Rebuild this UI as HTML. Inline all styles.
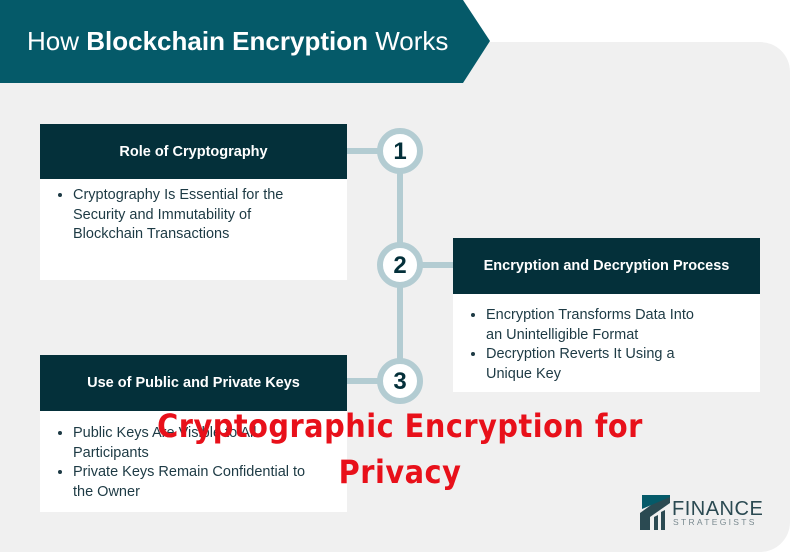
<!DOCTYPE html>
<html><head><style>
body{margin:0;width:800px;height:557px;background:#fff;position:relative;overflow:hidden;font-family:"Liberation Sans",sans-serif}
.a{position:absolute}
.hd{background:#04303a;color:#fff;font-weight:bold;font-size:14.5px;display:flex;align-items:center;justify-content:center}
.bd{background:#fff;color:#1d3a44;font-size:14.5px;line-height:19.5px;box-sizing:border-box;padding:6px 22px 0 0}
.bd ul{margin:0;padding-left:33px}
.red{color:#e8101a;font-weight:bold;font-size:32px;font-family:"DejaVu Sans Condensed","DejaVu Sans",sans-serif;text-align:center;width:800px;left:0;letter-spacing:0.5px}
</style></head><body>
<div class="a" style="left:0;top:42px;width:790px;height:510px;background:#f0f0f0;border-radius:0 30px 30px 0"></div>
<svg class="a" style="left:0;top:0" width="800" height="557">
<polygon points="0,0 463,0 490,41 463,83 0,83" fill="#055a69"/>
<line x1="400" y1="150" x2="400" y2="380" stroke="#b3ccd2" stroke-width="6"/>
<line x1="347" y1="151" x2="400" y2="151" stroke="#b3ccd2" stroke-width="6"/>
<line x1="400" y1="265" x2="453" y2="265" stroke="#b3ccd2" stroke-width="6"/>
<line x1="347" y1="381" x2="400" y2="381" stroke="#b3ccd2" stroke-width="6"/>
<g fill="#fff" stroke="#b3ccd2" stroke-width="6">
<circle cx="400" cy="151" r="20"/><circle cx="400" cy="265" r="20"/><circle cx="400" cy="381" r="20"/></g>
<g font-family="Liberation Sans,sans-serif" font-weight="bold" font-size="24" fill="#04303a" text-anchor="middle">
<text x="400" y="159">1</text><text x="400" y="273">2</text><text x="400" y="389">3</text></g>
</svg>
<div class="a" style="left:27px;top:26px;color:#fff;font-size:26px">How <b>Blockchain Encryption</b> Works</div>
<div class="a hd" style="left:40px;top:124px;width:307px;height:55px">Role of Cryptography</div>
<div class="a bd" style="left:40px;top:179px;width:307px;height:101px;padding-top:7px"><ul><li>Cryptography Is Essential for the Security and Immutability of Blockchain Transactions</li></ul></div>
<div class="a hd" style="left:453px;top:238px;width:307px;height:56px">Encryption and Decryption Process</div>
<div class="a bd" style="left:453px;top:294px;width:307px;height:98px;padding-top:12px;padding-right:60px"><ul><li>Encryption Transforms Data Into an Unintelligible Format</li><li>Decryption Reverts It Using a Unique Key</li></ul></div>
<div class="a hd" style="left:40px;top:355px;width:307px;height:56px">Use of Public and Private Keys</div>
<div class="a bd" style="left:40px;top:411px;width:307px;height:101px;padding-top:13px"><ul><li>Public Keys Are Visible to All Participants</li><li>Private Keys Remain Confidential to the Owner</li></ul></div>
<div class="a red" style="top:407px">Cryptographic Encryption for</div>
<div class="a red" style="top:453px">Privacy</div>
<svg class="a" style="left:640px;top:495px" width="30" height="35"><polygon points="0,35 0,18 22,2 30,2 30,8 10,22 10,35" fill="#2b4a52"/><polygon points="14,35 14,22 18,20 18,35" fill="#2b4a52"/><polygon points="21,35 21,17 25,15 25,35" fill="#2b4a52"/><polygon points="2,0 30,0 30,2 2,14" fill="#055a69"/></svg>
<div class="a" style="left:672px;top:498px;color:#2b4a52;font-size:20px;letter-spacing:0.5px;font-family:'Liberation Sans Narrow','Liberation Sans',sans-serif">FINANCE</div>
<div class="a" style="left:673px;top:517px;color:#7a8a90;font-size:8.5px;letter-spacing:2.3px">STRATEGISTS</div>
</body></html>
